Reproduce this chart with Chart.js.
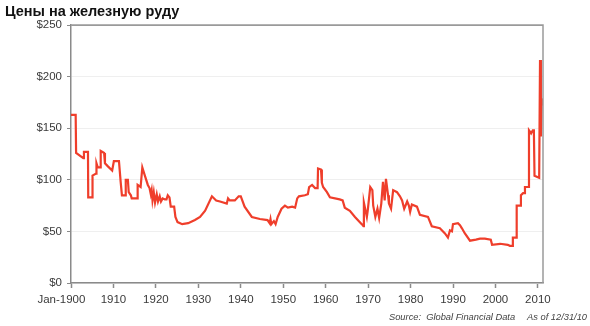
<!DOCTYPE html>
<html>
<head>
<meta charset="utf-8">
<script src="https://cdn.jsdelivr.net/npm/chart.js@4"></script>
<style>
  html, body { margin: 0; padding: 0; background: #fff; }
  #wrap { width: 590px; height: 326px; position: relative; }
</style>
</head>
<body>
<div id="wrap"><canvas id="chart"></canvas></div>
<script>
"use strict";

// iron ore price (year, USD)
var years = [
  1900, 1901.1, 1901.2, 1902.9, 1903.05, 1904.0, 1904.06, 1905.0, 1905.07, 1905.9,
  1906.0, 1906.3, 1906.9, 1907.0, 1907.8, 1908.0, 1908.7, 1909.7, 1910.1, 1911.3,
  1911.7, 1912.0, 1912.8, 1912.9, 1913.4, 1913.6, 1914.1, 1914.3, 1915.6, 1915.7,
  1916.4, 1916.8, 1917.4, 1918.1, 1918.5, 1918.8, 1919.0, 1919.2, 1919.5, 1919.8,
  1920.2, 1920.5, 1920.9, 1921.2, 1921.6, 1922.1, 1922.5, 1922.8, 1923.2, 1923.5,
  1924.3, 1924.6, 1925.1, 1926.2, 1927.6, 1929.2, 1930.4, 1931.6, 1933.2, 1934.2,
  1935.1, 1936.7, 1937.0, 1937.4, 1938.6, 1939.5, 1940.0, 1940.9, 1942.6, 1944.5,
  1946.3, 1946.8, 1947.0, 1947.2, 1947.8, 1948.2, 1948.7, 1949.6, 1950.4, 1951.1,
  1952.1, 1952.8, 1953.3, 1953.7, 1955.1, 1955.8, 1956.1, 1956.8, 1957.5, 1958.1,
  1958.2, 1958.9, 1959.1, 1959.4, 1960.3, 1961.0, 1963.3, 1964.0, 1964.5, 1965.7,
  1966.9, 1968.5, 1968.9, 1969.0, 1969.7, 1969.9, 1970.5, 1971.0, 1971.2, 1971.7,
  1972.2, 1972.6, 1973.1, 1973.5, 1973.9, 1974.2, 1974.7, 1974.9, 1975.4, 1975.9,
  1976.8, 1977.5, 1978.0, 1978.5, 1979.2, 1979.6, 1979.9, 1980.3, 1981.5, 1982.2,
  1984.1, 1985.0, 1986.9, 1988.1, 1988.8, 1989.28, 1989.75, 1989.99, 1991.16, 1991.64,
  1992.1, 1992.8, 1994.0, 1995.4, 1996.35, 1997.5, 1998.9, 1999.2, 2001.1, 2002.9,
  2003.4, 2004.0, 2004.1, 2004.9, 2005.0, 2005.8, 2006.0, 2006.5, 2006.8, 2006.95,
  2007.8, 2007.9, 2008.4, 2008.8, 2009.05, 2009.2, 2010.3, 2010.5, 2010.7, 2010.9,
  2011.1, 2011.2
];
var prices = [
  163, 163, 126, 121, 127, 127, 83, 83, 104, 106,
  116, 112, 112, 128, 126, 116, 113, 109, 118, 118,
  98, 85, 85, 100, 100, 88, 85, 82, 82, 95,
  93, 112, 104, 95, 92, 86, 90, 80, 88, 78,
  86, 79, 84, 79, 82, 81, 81, 85, 83, 74,
  74, 64, 59, 57, 58, 61, 64, 70, 84, 80,
  79, 77, 82, 80, 80, 84, 84, 74, 64, 62,
  61, 58, 62, 57, 60, 57, 64, 72, 75, 73,
  74, 73, 82, 84, 85, 86, 93, 95, 92, 92,
  111, 110, 97, 93, 88, 83, 81, 80, 73, 70,
  64, 57, 55, 78, 64, 70, 93, 90, 75, 64,
  72, 63, 77, 98, 80, 101, 85, 77, 72, 90,
  88, 84, 80, 72, 79, 75, 69, 76, 74, 66,
  64, 55, 53, 48, 44, 51, 50, 57, 58, 56,
  53, 48, 41, 42, 43, 43, 42, 37, 38, 37,
  36, 36, 44, 44, 75, 75, 85, 87, 87, 93,
  93, 148, 145, 148, 148, 104, 102, 216, 142, 179,
  172, 178
];

var xTickYears = [1900, 1910, 1920, 1930, 1940, 1950, 1960, 1970, 1980, 1990, 2000, 2010];
var xTickLabels = ["Jan-1900", "1910", "1920", "1930", "1940", "1950", "1960", "1970", "1980", "1990", "2000", "2010"];
var yTicks = [0, 50, 100, 150, 200, 250];

var chartTitle = "Цены на железную руду";
var sourceText = "Source:  Global Financial Data";
var asOfText = "As of 12/31/10";

var points = years.map(function(y, i) { return { x: y, y: prices[i] }; });

// title, footer and the frame on the right / top
var decorPlugin = {
  id: "decor",
  afterDraw: function(chart) {
    var ctx = chart.ctx, a = chart.chartArea;
    ctx.save();
    ctx.strokeStyle = "#9a9a9a";
    ctx.lineWidth = 1.5;
    ctx.beginPath();
    ctx.moveTo(a.left, a.top);
    ctx.lineTo(a.right, a.top);
    ctx.lineTo(a.right, a.bottom);
    ctx.stroke();

    ctx.fillStyle = "#111";
    ctx.font = "bold 14.5px 'Liberation Sans', Arial, sans-serif";
    ctx.textBaseline = "alphabetic";
    ctx.textAlign = "left";
    ctx.fillText(chartTitle, 5, 16);

    ctx.fillStyle = "#444";
    ctx.font = "italic 9.3px 'Liberation Sans', Arial, sans-serif";
    ctx.fillText(sourceText, 389, 320);
    ctx.textAlign = "right";
    ctx.fillText(asOfText, 587, 320);
    ctx.restore();
  }
};

var tickFont = { family: "'Liberation Sans', Arial, sans-serif", size: 11.5 };

new Chart(document.getElementById("chart"), {
  type: "line",
  data: {
    datasets: [{
      data: points,
      borderColor: "#ef3e2b",
      borderWidth: 2.2,
      pointRadius: 0,
      tension: 0,
      fill: false
    }]
  },
  options: {
    responsive: true,
    maintainAspectRatio: false,
    animation: false,
    layout: { padding: { top: 25, right: 47, left: 0, bottom: 0 } },
    plugins: { legend: { display: false }, tooltip: { enabled: false } },
    scales: {
      x: {
        type: "linear",
        min: 1900,
        max: 2011.2,
        afterBuildTicks: function(s) {
          s.ticks = xTickYears.map(function(v) { return { value: v }; });
        },
        afterFit: function(s) { s.height = 43; },
        ticks: {
          color: "#3a3a3a",
          font: tickFont,
          padding: 5,
          maxRotation: 0,
          autoSkip: false,
          callback: function(v) {
            var i = xTickYears.indexOf(v);
            if (i < 0) return "";
            // first label sits a little left of its tick in the original
            return i === 0 ? xTickLabels[i] + "\u2007\u2007\u2007" : xTickLabels[i];
          }
        },
        grid: { drawOnChartArea: false, tickLength: 5, tickColor: "#8a8a8a", tickWidth: 1.5 },
        border: { color: "#8a8a8a", width: 1.5 }
      },
      y: {
        min: 0,
        max: 250,
        afterBuildTicks: function(s) {
          s.ticks = yTicks.map(function(v) { return { value: v }; });
        },
        afterFit: function(s) { s.width = 71; },
        ticks: {
          color: "#3a3a3a",
          font: tickFont,
          padding: 5,
          callback: function(v) { return "$" + v; }
        },
        grid: {
          color: function(c) { return c.tick && c.tick.value === 250 ? "#9a9a9a" : "#efefef"; },
          tickColor: "#8a8a8a",
          tickLength: 4,
          lineWidth: 1
        },
        border: { color: "#8a8a8a", width: 1.5 }
      }
    }
  },
  plugins: [decorPlugin]
});
</script>
</body>
</html>
